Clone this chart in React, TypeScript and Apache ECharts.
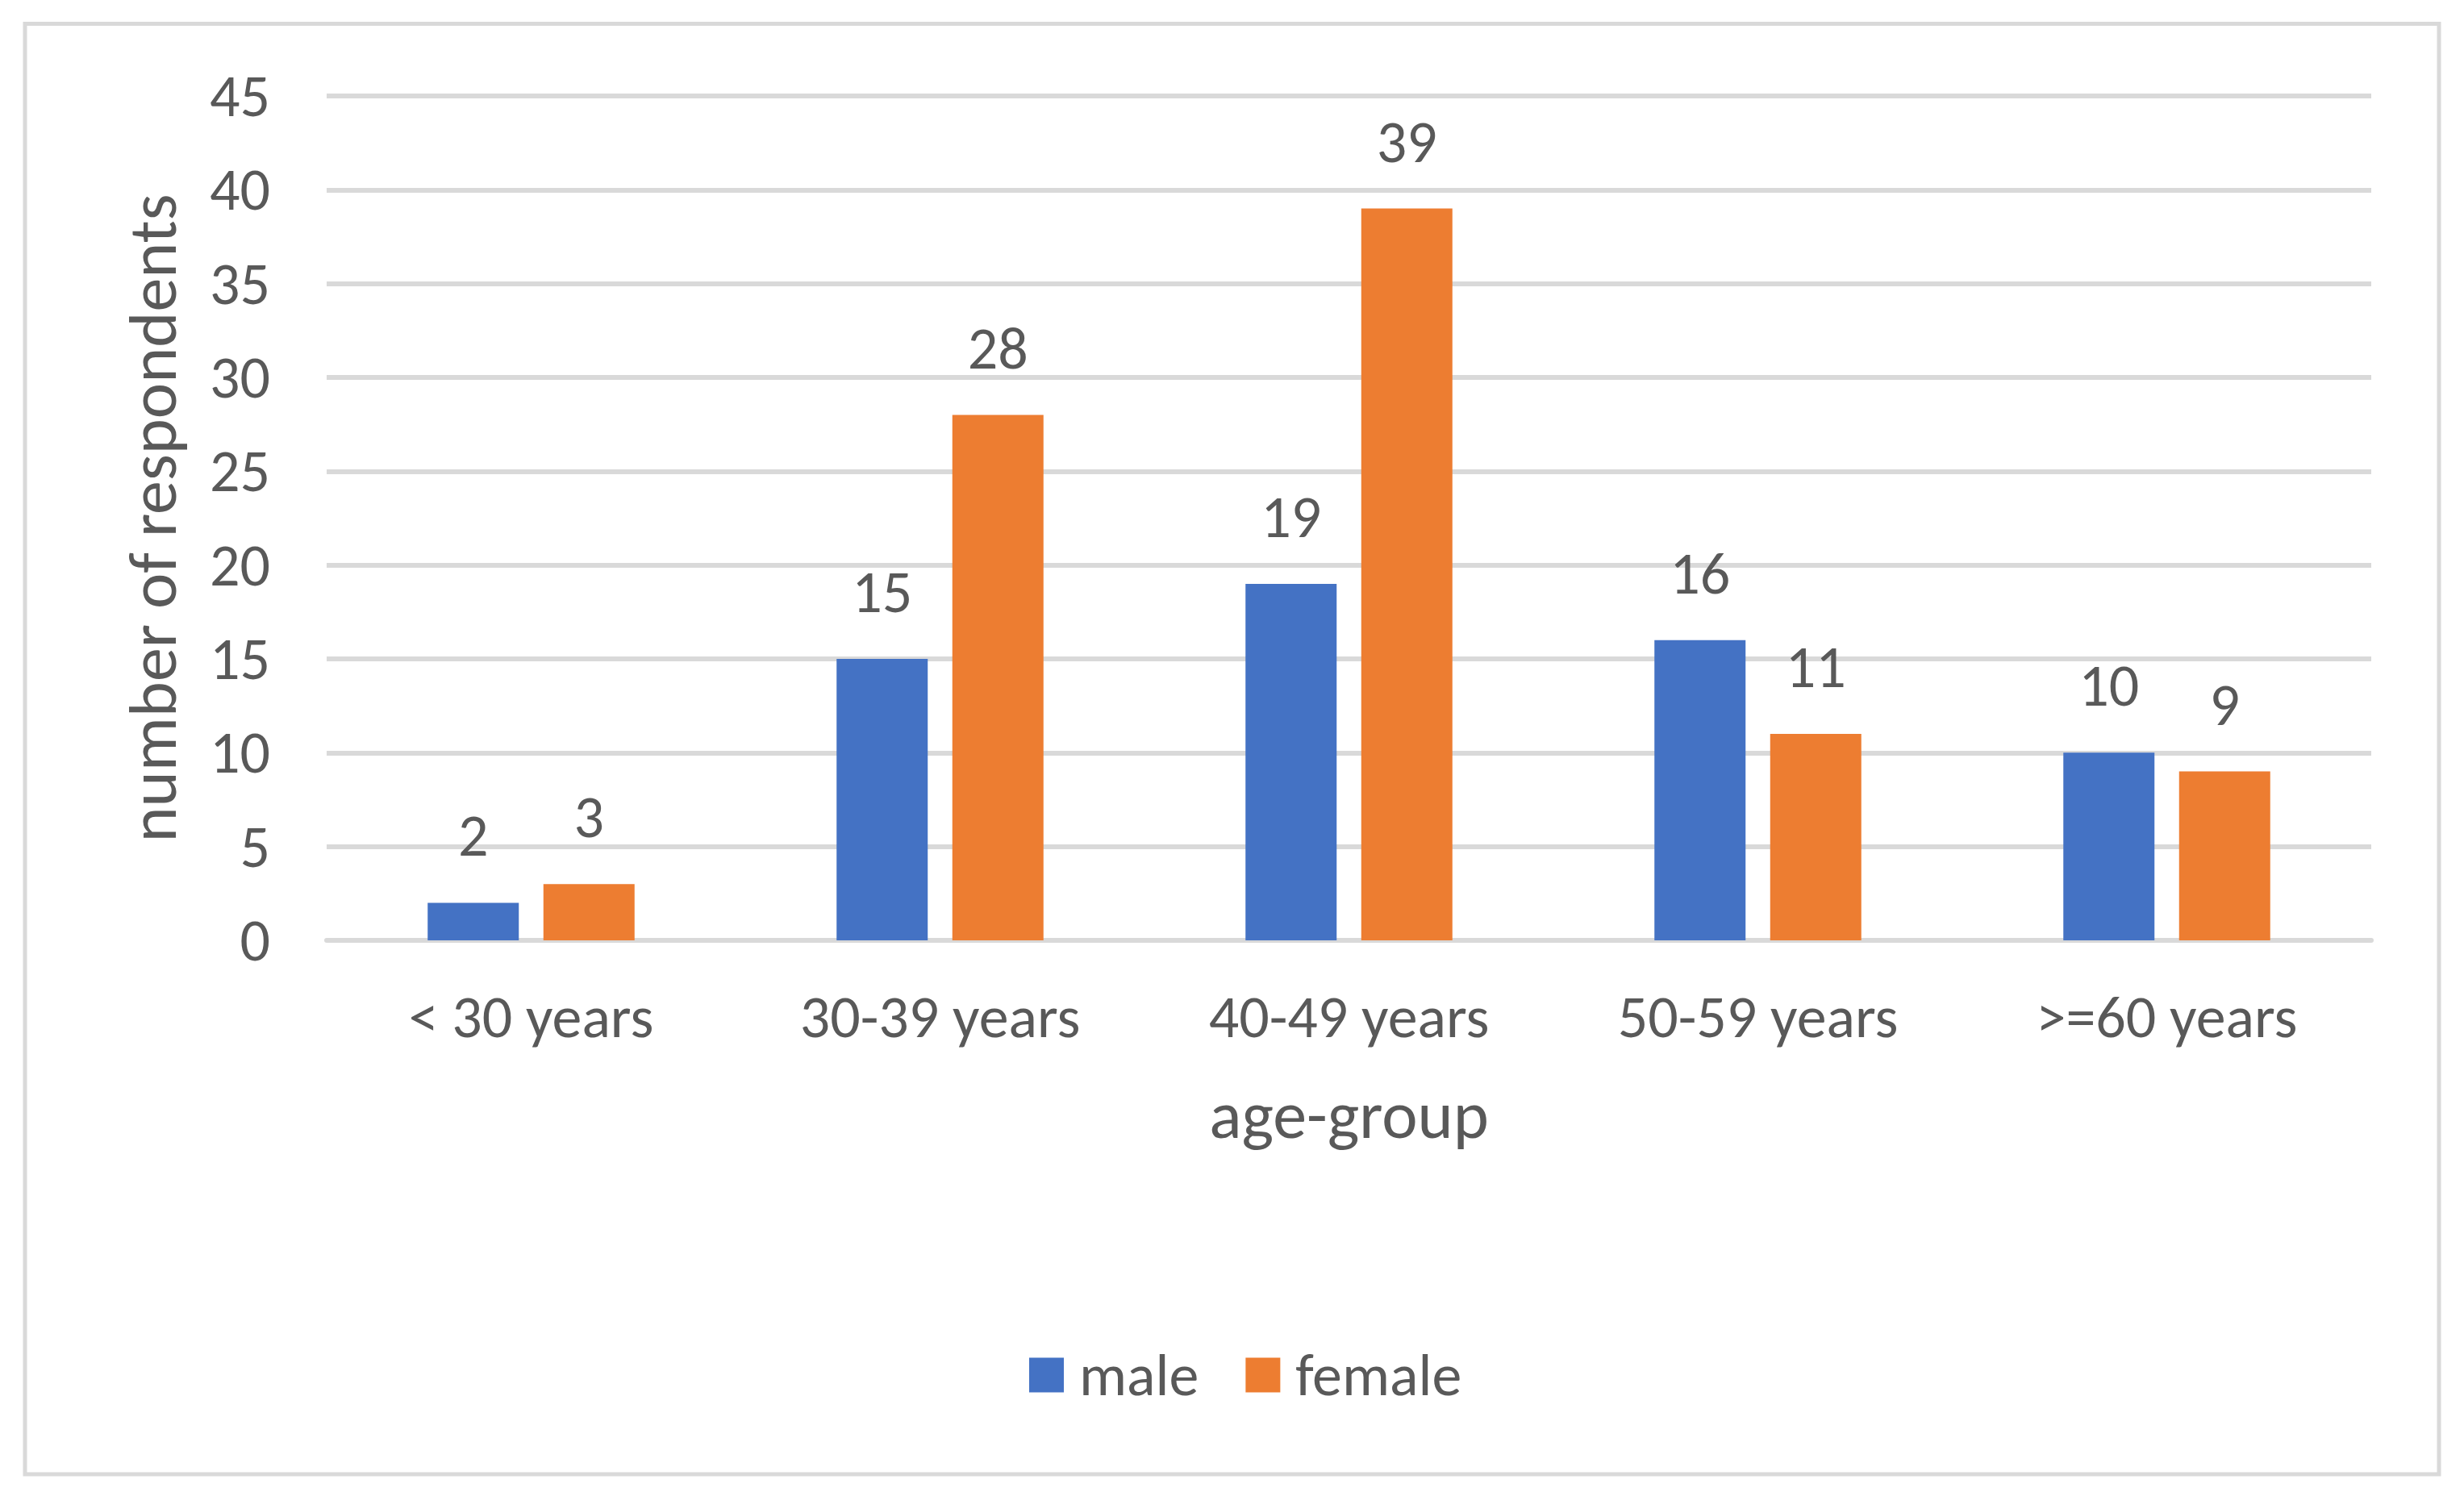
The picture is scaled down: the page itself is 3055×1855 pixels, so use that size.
import React, { useEffect, useRef } from "react";
import * as echarts from "echarts";

const categories = ["< 30 years", "30-39 years", "40-49 years", "50-59 years", ">=60 years"];
const maleValues = [2, 15, 19, 16, 10];
const femaleValues = [3, 28, 39, 11, 9];
const seriesNames = ["male", "female"];
const yAxisTitle = "number of respondents";
const xAxisTitle = "age-group";

const FONT = "Carlito, Calibri, Lato, sans-serif";
const TEXT = "#595959";
const GRID = "#d9d9d9";

export default function App() {
  const ref = useRef<HTMLDivElement>(null);
  useEffect(() => {
    document.body.style.margin = "0";
    const chart = echarts.init(ref.current!, null, { renderer: "svg" });
    const label = {
      show: true,
      position: "top" as const,
      distance: 46,
      color: TEXT,
      fontSize: 74,
      fontFamily: FONT,
    };
    chart.setOption({
      animation: false,
      backgroundColor: "#ffffff",
      textStyle: { fontFamily: FONT, color: TEXT },
      graphic: [
        {
          type: "rect",
          shape: { x: 31, y: 29.5, width: 2993, height: 1798.5 },
          style: { fill: "none", stroke: GRID, lineWidth: 5 },
          silent: true,
        },
      ],
      grid: { left: 405, right: 115, top: 119, bottom: 689, containLabel: false },
      legend: {
        data: seriesNames,
        left: 1271,
        top: 1663,
        icon: "rect",
        itemWidth: 43,
        itemHeight: 43,
        itemGap: 58,
        textStyle: { color: TEXT, fontSize: 74, fontFamily: FONT, padding: [0, 0, 0, 14] },
      },
      xAxis: {
        type: "category",
        data: categories,
        name: xAxisTitle,
        nameLocation: "middle",
        nameGap: 174,
        nameTextStyle: { color: TEXT, fontSize: 84, fontFamily: FONT },
        axisLine: { show: true, lineStyle: { color: GRID, width: 6 } },
        axisTick: { show: false },
        axisLabel: { color: TEXT, fontSize: 74, fontFamily: FONT, margin: 58, interval: 0 },
      },
      yAxis: {
        type: "value",
        min: 0,
        max: 45,
        interval: 5,
        name: yAxisTitle,
        nameLocation: "middle",
        nameGap: 174,
        nameTextStyle: { color: TEXT, fontSize: 84, fontFamily: FONT },
        axisLine: { show: false },
        axisTick: { show: false },
        axisLabel: { color: TEXT, fontSize: 74, fontFamily: FONT, margin: 70 },
        splitLine: { show: true, lineStyle: { color: GRID, width: 6 } },
      },
      series: [
        {
          name: seriesNames[0],
          type: "bar",
          data: maleValues,
          barWidth: 113,
          barGap: "27%",
          itemStyle: { color: "#4472C4" },
          label,
        },
        {
          name: seriesNames[1],
          type: "bar",
          data: femaleValues,
          barWidth: 113,
          barGap: "27%",
          itemStyle: { color: "#ED7D31" },
          label,
        },
      ],
    });
    return () => chart.dispose();
  }, []);
  return <div ref={ref} style={{ width: 3055, height: 1855 }} />;
}
